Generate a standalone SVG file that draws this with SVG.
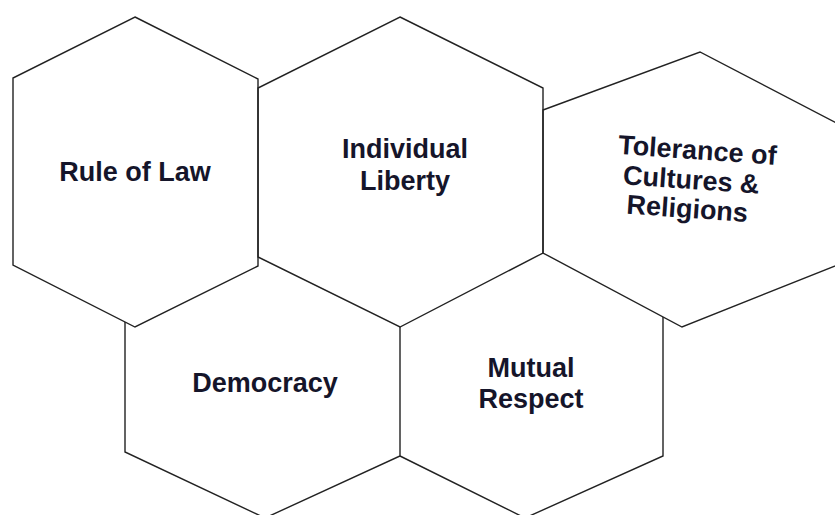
<svg xmlns="http://www.w3.org/2000/svg" width="835" height="515" viewBox="0 0 835 515">
  <style>
    .hex { fill: none; stroke: #222222; stroke-width: 1.4; stroke-linejoin: miter; }
    .lbl { font-family: "Liberation Sans", Arial, sans-serif; font-weight: bold; font-size: 27px; fill: #15152a; text-anchor: middle; }
  </style>
  <rect width="835" height="515" fill="#ffffff"/>

  <!-- lower row: open outlines, top edges are shared with the upper row -->
  <g id="democracy">
    <path class="hex" d="M125,322 V452 L265,518 L400,456 V327"/>
    <text class="lbl" x="265" y="392">Democracy</text>
  </g>
  <g id="mutual-respect">
    <path class="hex" d="M400,456 L525,518 L663,456 V317"/>
    <text class="lbl" x="531" y="377">Mutual</text>
    <text class="lbl" x="531" y="408">Respect</text>
  </g>

  <!-- upper row -->
  <g id="rule-of-law">
    <polygon class="hex" points="135,17 258,79 258,266 135,327 13,265 13,78"/>
    <text class="lbl" x="135" y="181">Rule of Law</text>
  </g>
  <g id="individual-liberty">
    <polygon class="hex" points="400,17 543,88 543,253 400,327 258,257 258,88"/>
    <text class="lbl" x="405" y="158">Individual</text>
    <text class="lbl" x="405" y="190">Liberty</text>
  </g>
  <g id="tolerance">
    <polygon class="hex" points="543,110 700,52 850,130 850,260 682,327 543,253"/>
    <g transform="rotate(4 692 185)">
      <text class="lbl" x="695" y="159">Tolerance of</text>
      <text class="lbl" x="691" y="189">Cultures &amp;</text>
      <text class="lbl" x="689" y="218">Religions</text>
    </g>
  </g>
</svg>
